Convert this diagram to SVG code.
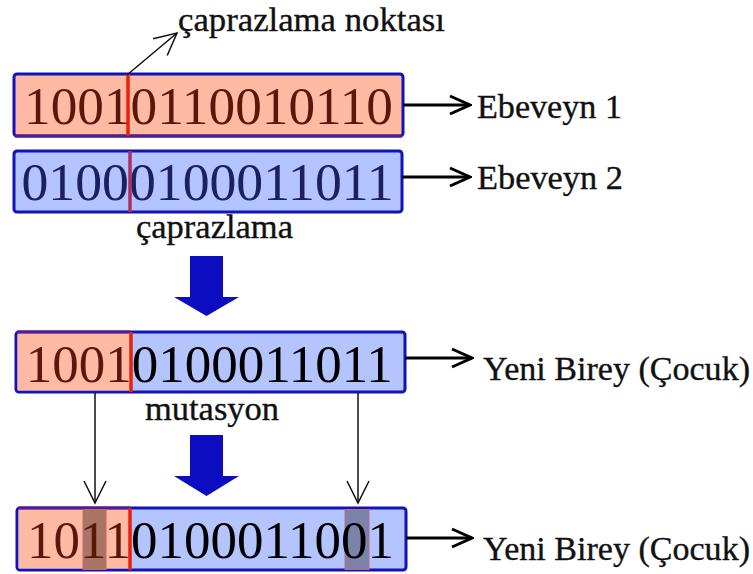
<svg xmlns="http://www.w3.org/2000/svg" width="753" height="574" viewBox="0 0 753 574" font-family="'Liberation Serif', 'DejaVu Serif', serif">
<defs>
<style>
.box{stroke:#1212b8;stroke-width:3;}
.sal{fill:#ffbaa4;}
.blu{fill:#b4c4ff;}
text{font-family:'Liberation Serif','DejaVu Serif',serif;}
.bits{font-size:52px;}
.lbl{font-size:34px;fill:#111;stroke:#111;stroke-width:0.35;}
.split{stroke:#e8200e;stroke-width:3.5;}
.conn{stroke:#000;stroke-width:3;fill:none;}
.thin{stroke:#111;stroke-width:1.5;fill:none;}
.big{fill:#0c0cc0;}
</style>
<marker id="chev" viewBox="0 0 24 22" refX="22" refY="11" markerWidth="24" markerHeight="22" markerUnits="userSpaceOnUse" orient="auto">
<path d="M2,2 L22,11 L2,20" fill="none" stroke="#000" stroke-width="3"/>
</marker>
<marker id="chevthin" viewBox="0 0 26 26" refX="24" refY="13" markerWidth="26" markerHeight="26" markerUnits="userSpaceOnUse" orient="auto">
<path d="M2,2 L24,13 L2,24" fill="none" stroke="#111" stroke-width="1.5"/>
</marker>
</defs>
<rect width="753" height="574" fill="#fff"/>

<g id="parent1">
<rect x="14" y="74" width="389" height="62" rx="3" class="box sal"/>
<line x1="15" y1="136" x2="402" y2="136" stroke="#5a1a8a" stroke-width="3"/>
<text x="24" y="124" class="bits" font-family="Liberation Serif" textLength="369" lengthAdjust="spacingAndGlyphs" fill="#5a1808">10010110010110</text>
<line x1="128" y1="74" x2="128" y2="136" class="split"/>
</g>

<g id="parent2">
<rect x="14" y="151" width="388" height="61" rx="3" class="box blu"/>
<text x="21.5" y="200" class="bits" font-family="Liberation Serif" textLength="372" lengthAdjust="spacingAndGlyphs" fill="#1a2060">01000100011011</text>
<line x1="130" y1="151" x2="130" y2="212" stroke="#a83060" stroke-width="3.5"/>
</g>

<g id="child1">
<rect x="16" y="332" width="389" height="60" rx="3" class="box blu"/>
<rect x="17.5" y="333.5" width="113" height="57" class="sal"/>
<line x1="17" y1="332" x2="130" y2="332" stroke="#5a1a8a" stroke-width="3"/>
<text x="25.8" y="382" class="bits" font-family="Liberation Serif" textLength="367" lengthAdjust="spacingAndGlyphs" fill="#000"><tspan fill="#5a1808">1001</tspan>0100011011</text>
<line x1="131" y1="332" x2="131" y2="392" class="split"/>
</g>

<g id="child2">
<rect x="17" y="508" width="389" height="62" rx="3" class="box blu"/>
<rect x="18.5" y="509.5" width="111" height="59" class="sal"/>
<line x1="18" y1="508" x2="130" y2="508" stroke="#5a1a8a" stroke-width="3"/>
<rect x="83" y="509.5" width="23" height="60" fill="#a87464" stroke="#c86a6a" stroke-width="1"/>
<rect x="345" y="509.5" width="24" height="60" fill="#7b83a8" stroke="#c06a7a" stroke-width="1"/>
<text x="27" y="558" class="bits" font-family="Liberation Serif" textLength="367" lengthAdjust="spacingAndGlyphs" fill="#000"><tspan fill="#5a1808">1011</tspan>0100011001</text>
<line x1="130" y1="508" x2="130" y2="570" class="split"/>
</g>

<g id="labels" font-family="Liberation Serif">
<text x="178" y="31" class="lbl" textLength="267" lengthAdjust="spacingAndGlyphs">çaprazlama noktası</text>
<text x="477" y="118" class="lbl" textLength="145" lengthAdjust="spacingAndGlyphs">Ebeveyn 1</text>
<text x="477" y="189" class="lbl" textLength="146" lengthAdjust="spacingAndGlyphs">Ebeveyn 2</text>
<text x="136" y="238" class="lbl" textLength="157" lengthAdjust="spacingAndGlyphs">çaprazlama</text>
<text x="483" y="380" class="lbl" textLength="267" lengthAdjust="spacingAndGlyphs">Yeni Birey (Çocuk)</text>
<text x="145" y="420" class="lbl" textLength="134" lengthAdjust="spacingAndGlyphs">mutasyon</text>
<text x="483" y="560" class="lbl" textLength="267" lengthAdjust="spacingAndGlyphs">Yeni Birey (Çocuk)</text>
</g>

<g id="connectors">
<line x1="403" y1="105" x2="470" y2="105" class="conn" marker-end="url(#chev)"/>
<line x1="402" y1="177" x2="470" y2="177" class="conn" marker-end="url(#chev)"/>
<line x1="405" y1="358" x2="472" y2="358" class="conn" marker-end="url(#chev)"/>
<line x1="406" y1="538" x2="472" y2="538" class="conn" marker-end="url(#chev)"/>
<line x1="127" y1="75" x2="177" y2="33" class="thin" marker-end="url(#chevthin)"/>
<line x1="95" y1="393" x2="95" y2="503" class="thin" marker-end="url(#chevthin)"/>
<line x1="358" y1="393" x2="358" y2="503" class="thin" marker-end="url(#chevthin)"/>
<path d="M190,256 H223 V297 H239 L206.5,316 L174,297 H190 Z" class="big"/>
<path d="M190,435 H223 V476 H239 L206.5,496 L174,476 H190 Z" class="big"/>
</g>
</svg>
